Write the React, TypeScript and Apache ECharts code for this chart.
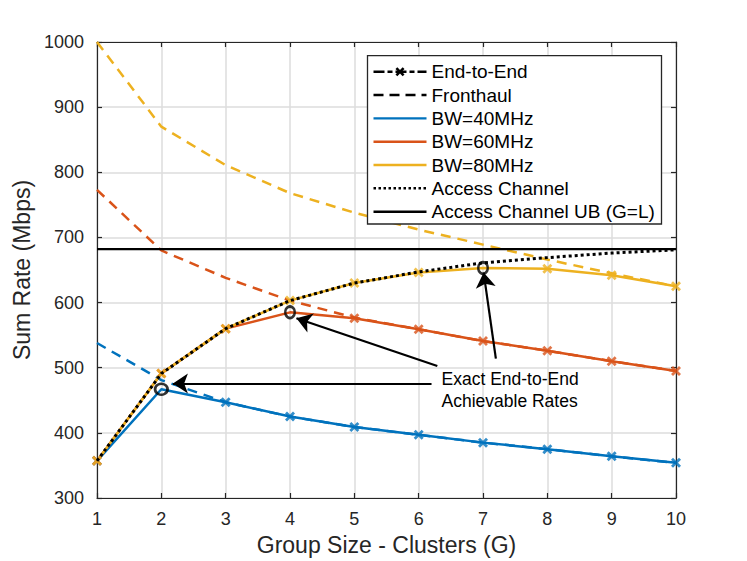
import React, { useEffect, useRef } from "react";
import * as echarts from "echarts";

// ---- data ----
const groupSizes = [1, 2, 3, 4, 5, 6, 7, 8, 9, 10];
const fronthaul40 = [538, 481, 447, 425, 409, 397, 385, 375, 364, 354];
const fronthaul60 = [773, 680, 638, 603, 577, 559, 541, 526, 510, 495];
const fronthaul80 = [1000, 870, 811, 768, 738, 712, 689, 666, 645, 625];
const endToEnd40 = [357, 467, 447, 425, 409, 397, 385, 375, 364, 354];
const endToEnd60 = [357, 491, 560, 585, 576, 559, 541, 526, 510, 495];
const endToEnd80 = [357, 491, 560, 603, 630, 646, 653, 652, 642, 625];
const accessChannel = [357, 491, 560, 603, 630, 647, 661, 669, 676, 681];
const accessUB = 682;
// exact achievable points that are circled (G, rate)
const exactG = [2, 4, 7];
const exactRate = [467, 585, 653];
// arrow annotations in data space: [fromG, fromRate, toG, toRate]
const arrows = [
  [6.2, 475.6, 2.18, 475.6],
  [6.29, 502.6, 4.1, 576],
  [7.2, 514, 7.01, 646],
];
const yTicks = { min: 300, max: 1000, interval: 100 };
const xTicks = { min: 1, max: 10, interval: 1 };

const BLUE = "#0072BD";
const RED = "#D95319";
const YELLOW = "#EDB120";
const AXIS = "#262626";
const GRID = "#dcdcdc";
const FONT = "'Liberation Sans', Arial, Helvetica, sans-serif";

const X_PATH =
  "path://M0,2L2,0L5,3L8,0L10,2L7,5L10,8L8,10L5,7L2,10L0,8L3,5Z";

const pairs = (ys: number[]) => groupSizes.map((g, i) => [g, ys[i]]);
const markerPairs = (ys: number[]) =>
  groupSizes
    .map((g, i) => [g, ys[i]])
    .filter((p) => !exactG.some((eg, k) => eg === p[0] && exactRate[k] === p[1]));

function xPolygon(cx: number, cy: number, s: number) {
  const pts = [
    [0, 2], [2, 0], [5, 3], [8, 0], [10, 2], [7, 5],
    [10, 8], [8, 10], [5, 7], [2, 10], [0, 8], [3, 5],
  ];
  return pts.map(([x, y]) => [cx + ((x - 5) * s) / 10, cy + ((y - 5) * s) / 10]);
}

function buildOption() {
  const legendItems = [
    { label: "End-to-End", kind: "e2e" },
    { label: "Fronthaul", kind: "fh" },
    { label: "BW=40MHz", kind: "c", color: BLUE },
    { label: "BW=60MHz", kind: "c", color: RED },
    { label: "BW=80MHz", kind: "c", color: YELLOW },
    { label: "Access Channel", kind: "dot" },
    { label: "Access Channel UB (G=L)", kind: "ub" },
  ];
  const lx0 = 373.5, lx1 = 426.5, ltx = 431.5, ly0 = 71.7, ldy = 23.33;
  const graphics: any[] = [
    {
      type: "rect",
      z: 100,
      shape: { x: 367.5, y: 55.7, width: 294, height: 168.3 },
      style: { fill: "#fff", stroke: AXIS, lineWidth: 1.3 },
    },
  ];
  legendItems.forEach((it, i) => {
    const y = ly0 + i * ldy;
    let stroke = "#000";
    let dash: any = null;
    let lw = 2.4;
    if (it.kind === "e2e") dash = [11, 3, 5, 3];
    if (it.kind === "fh") dash = [10, 6];
    if (it.kind === "c") stroke = it.color as string;
    if (it.kind === "dot") { dash = [2.5, 2.5]; lw = 2.5; }
    graphics.push({
      type: "line",
      z: 101,
      shape: { x1: lx0, y1: y, x2: lx1, y2: y },
      style: { stroke, lineWidth: lw, lineDash: dash },
    });
    if (it.kind === "e2e") {
      graphics.push({
        type: "polygon",
        z: 102,
        shape: { points: xPolygon((lx0 + lx1) / 2, y, 9) },
        style: { fill: "#000" },
      });
    }
    graphics.push({
      type: "text",
      z: 102,
      x: ltx,
      y,
      style: {
        text: it.label,
        fontSize: 19,
        fontFamily: FONT,
        fill: "#000",
        verticalAlign: "middle",
        textAlign: "left",
      },
    });
  });
  ["Exact End-to-End", "Achievable Rates"].forEach((t, i) => {
    graphics.push({
      type: "text",
      z: 102,
      x: 441.5,
      y: 379 + i * 21.7,
      style: {
        text: t,
        fontSize: 17.5,
        fontFamily: FONT,
        fill: "#000",
        verticalAlign: "middle",
        textAlign: "left",
      },
    });
  });

  const baseAxisLine = { show: true, onZero: false, lineStyle: { color: AXIS, width: 1.2 } };
  const baseTick = { show: true, inside: true, length: 5, lineStyle: { color: AXIS, width: 1.2 } };

  const fhSeries = (name: string, ys: number[], color: string) => ({
    name,
    type: "line",
    data: pairs(ys),
    showSymbol: false,
    symbol: "none",
    silent: true,
    z: 2,
    lineStyle: { color, width: 2.5, type: [10, 7] },
  });
  const e2eSeries = (name: string, ys: number[], color: string) => ({
    name,
    type: "line",
    data: pairs(ys),
    showSymbol: false,
    symbol: "none",
    silent: true,
    z: 3,
    lineStyle: { color, width: 2.5, type: "solid" },
  });
  const markerSeries = (name: string, ys: number[], color: string) => ({
    name,
    type: "scatter",
    data: markerPairs(ys),
    symbol: X_PATH,
    symbolSize: 10,
    silent: true,
    z: 6,
    itemStyle: { color },
  });

  return {
    animation: false,
    backgroundColor: "#fff",
    textStyle: { fontFamily: FONT },
    grid: { left: 97, right: 71, top: 42, bottom: 62, containLabel: false },
    xAxis: [
      {
        type: "value",
        ...xTicks,
        position: "bottom",
        name: "Group Size - Clusters (G)",
        nameLocation: "middle",
        nameGap: 35,
        nameTextStyle: { fontSize: 23, color: AXIS, fontFamily: FONT },
        axisLine: baseAxisLine,
        axisTick: baseTick,
        axisLabel: { fontSize: 18, color: AXIS, margin: 12, fontFamily: FONT },
        splitLine: { show: true, lineStyle: { color: GRID, width: 1.5 } },
      },
      {
        type: "value",
        ...xTicks,
        position: "top",
        axisLine: baseAxisLine,
        axisTick: baseTick,
        axisLabel: { show: false },
        splitLine: { show: false },
      },
    ],
    yAxis: [
      {
        type: "value",
        ...yTicks,
        position: "left",
        name: "Sum Rate (Mbps)",
        nameLocation: "middle",
        nameRotate: 90,
        nameGap: 57,
        nameTextStyle: { fontSize: 23, color: AXIS, fontFamily: FONT },
        axisLine: baseAxisLine,
        axisTick: baseTick,
        axisLabel: {
          fontSize: 18,
          color: AXIS,
          margin: 13,
          fontFamily: FONT,
          formatter: (v: number) => String(v),
        },
        splitLine: { show: true, lineStyle: { color: GRID, width: 1.5 } },
      },
      {
        type: "value",
        ...yTicks,
        position: "right",
        axisLine: baseAxisLine,
        axisTick: baseTick,
        axisLabel: { show: false },
        splitLine: { show: false },
      },
    ],
    series: [
      fhSeries("Fronthaul 40", fronthaul40, BLUE),
      fhSeries("Fronthaul 60", fronthaul60, RED),
      fhSeries("Fronthaul 80", fronthaul80, YELLOW),
      e2eSeries("BW=40MHz", endToEnd40, BLUE),
      e2eSeries("BW=60MHz", endToEnd60, RED),
      e2eSeries("BW=80MHz", endToEnd80, YELLOW),
      markerSeries("m40", endToEnd40, BLUE),
      markerSeries("m60", endToEnd60, RED),
      markerSeries("m80", endToEnd80, YELLOW),
      {
        name: "Access Channel",
        type: "line",
        data: pairs(accessChannel),
        showSymbol: false,
        symbol: "none",
        silent: true,
        z: 7,
        lineStyle: { color: "#000", width: 3, type: [3, 3], cap: "butt" },
      },
      {
        name: "Access Channel UB (G=L)",
        type: "line",
        data: [
          [xTicks.min, accessUB],
          [xTicks.max, accessUB],
        ],
        showSymbol: false,
        symbol: "none",
        silent: true,
        z: 7,
        lineStyle: { color: "#000", width: 2.3 },
      },
      {
        name: "Exact",
        type: "scatter",
        silent: true,
        z: 8,
        symbol: "circle",
        data: exactG.map((g, i) => ({
          value: [g, exactRate[i]],
          symbolSize: i === 0 ? [12.5, 11] : [9.5, 11.5],
        })),
        itemStyle: { color: "rgba(0,0,0,0)", borderColor: "#000", borderWidth: 2.6 },
        markLine: {
          silent: true,
          symbol: ["none", "arrow"],
          symbolSize: 15,
          label: { show: false },
          lineStyle: { color: "#000", width: 2.2, type: "solid" },
          data: arrows.map((a) => [{ coord: [a[0], a[1]] }, { coord: [a[2], a[3]] }]),
        },
      },
    ],
    graphic: graphics,
  };
}

export default function App() {
  const ref = useRef<HTMLDivElement>(null);
  useEffect(() => {
    if (!ref.current) return;
    const chart = echarts.init(ref.current, undefined, { renderer: "svg" });
    chart.setOption(buildOption() as any);
    return () => chart.dispose();
  }, []);
  return (
    <div
      ref={ref}
      style={{ position: "fixed", left: 0, top: 0, width: 747, height: 561, background: "#fff" }}
    />
  );
}
